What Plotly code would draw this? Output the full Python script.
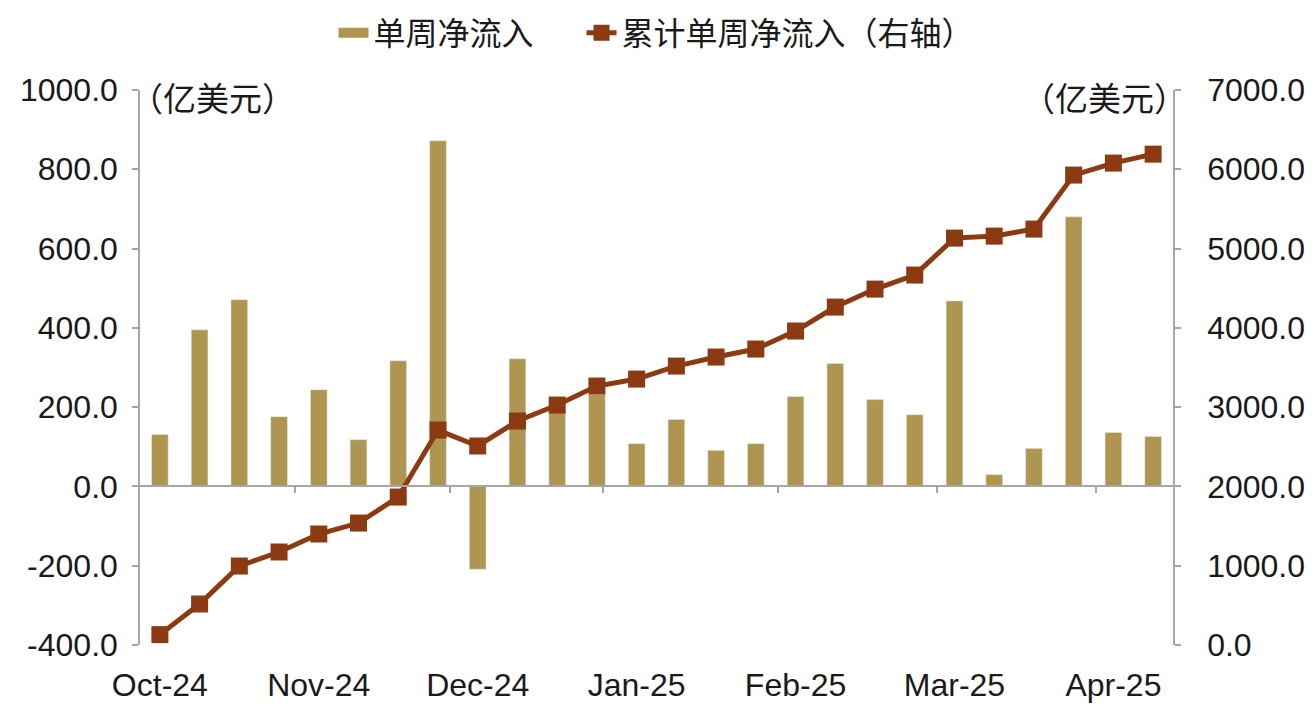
import plotly.graph_objects as go

# Weekly data (26 weeks, Oct-24 .. Apr-25)
weekly_flow = [131, 395, 471, 176, 244, 118, 317, 872, -209, 322, 190, 232, 108,
               169, 91, 108, 227, 310, 219, 181, 468, 30, 96, 680, 136, 126]
cumulative_flow = [131, 517, 996, 1173, 1400, 1538, 1866, 2711, 2510, 2825, 3026,
                   3266, 3354, 3518, 3632, 3733, 3960, 4262, 4489, 4666, 5132,
                   5157, 5246, 5927, 6078, 6191]
month_labels = ["Oct-24", "Nov-24", "Dec-24", "Jan-25", "Feb-25", "Mar-25", "Apr-25"]
month_label_pos = [0, 4, 8, 12, 16, 20, 24]
month_boundary_pos = [3.4, 7.3, 11.15, 15.55, 19.55, 23.55]
left_ticks = [-400, -200, 0, 200, 400, 600, 800, 1000]
right_ticks = [0, 1000, 2000, 3000, 4000, 5000, 6000, 7000]

x = list(range(len(weekly_flow)))

BAR = "#AE9650"
LINE = "#8B3A12"
AXIS = "#A6A6A6"
FONT = "Liberation Sans, Arial, Noto Sans CJK SC, sans-serif"
CJK = "Noto Sans CJK SC, Liberation Sans, sans-serif"

fig = go.Figure()
fig.add_trace(go.Bar(x=x, y=weekly_flow, name="单周净流入", marker_color=BAR,
                     width=0.42, xaxis="x", yaxis="y", showlegend=False))
# legend proxy for the bar series (wide rectangle swatch)
fig.add_trace(go.Scatter(x=[None], y=[None],
                         name="单周净流入\u00a0\u00a0\u00a0\u00a0\u00a0\u00a0",
                         mode="lines", line=dict(color=BAR, width=17),
                         xaxis="x", yaxis="y"))
fig.add_trace(go.Scatter(x=x, y=cumulative_flow, name="累计单周净流入（右轴）",
                         mode="lines+markers",
                         line=dict(color=LINE, width=5),
                         marker=dict(symbol="square", size=17, color=LINE),
                         xaxis="x2", yaxis="y2"))

y_min, y_max = -400, 1000
zero_pos = (0 - y_min) / (y_max - y_min)

# page body has an 8px margin, so the figure is sized to fit the 1314x711 window
fig.update_layout(
    width=1306, height=703,
    margin=dict(l=132, r=141, t=82, b=66, autoexpand=False),
    paper_bgcolor="white", plot_bgcolor="white",
    font=dict(family=FONT, size=32, color="#1a1a1a"),
    showlegend=True,
    legend=dict(orientation="h", x=0.5, xanchor="center", y=1.103, yanchor="middle",
                font=dict(family=CJK, size=32), tracegroupgap=0,
                bgcolor="rgba(0,0,0,0)"),
    xaxis=dict(range=[-0.5, len(x) - 0.5], tickmode="array", tickvals=month_label_pos,
               ticktext=month_labels, showline=False, ticks="", showgrid=False,
               zeroline=False, ticklabelstandoff=18),
    xaxis2=dict(range=[-0.5, len(x) - 0.5], overlaying="x", anchor="free",
                position=zero_pos, showline=True, linecolor=AXIS, linewidth=1.5,
                ticks="outside", ticklen=6, tickcolor=AXIS, tickwidth=1.5,
                tickmode="array", tickvals=month_boundary_pos,
                showticklabels=False, showgrid=False, zeroline=False),
    yaxis=dict(range=[y_min, y_max], tickmode="array", tickvals=left_ticks,
               ticktext=[f"{v:.1f}" for v in left_ticks], showline=True,
               linecolor=AXIS, linewidth=1.5, ticks="outside", ticklen=6,
               tickcolor=AXIS, tickwidth=1.5, showgrid=False, zeroline=False,
               ticklabelstandoff=8),
    yaxis2=dict(range=[0, 7000], tickmode="array", tickvals=right_ticks,
                ticktext=[f"{v:.1f}" for v in right_ticks], overlaying="y",
                side="right", anchor="x", showline=True, linecolor=AXIS, linewidth=1.5,
                ticks="outside", ticklen=6, tickcolor=AXIS, tickwidth=1.5,
                showgrid=False, zeroline=False, ticklabelstandoff=20),
    annotations=[
        dict(text="（亿美元）", xref="paper", yref="paper", x=0.0, y=1.0,
             xanchor="left", yanchor="middle", showarrow=False, yshift=-7, xshift=-12,
             font=dict(family=CJK, size=33, color="#1a1a1a")),
        dict(text="（亿美元）", xref="paper", yref="paper", x=1.0, y=1.0,
             xanchor="right", yanchor="middle", showarrow=False, yshift=-7, xshift=16,
             font=dict(family=CJK, size=33, color="#1a1a1a")),
    ],
)

fig.write_html("out.html")
